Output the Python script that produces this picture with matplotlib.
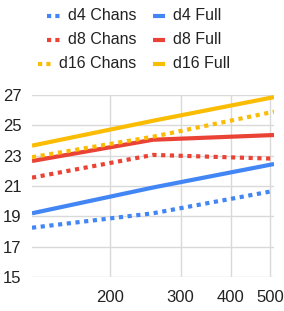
import matplotlib
matplotlib.use("Agg")
import matplotlib.pyplot as plt
from matplotlib.lines import Line2D
import numpy as np

plt.rcParams['font.family'] = ['Liberation Sans', 'DejaVu Sans']

x_vals = [128, 256, 512]
d4_chans = [18.25, 19.2, 20.68]
d4_full = [19.2, 20.9, 22.45]
d8_chans = [21.55, 23.05, 22.8]
d8_full = [22.65, 24.05, 24.36]
d16_chans = [22.9, 24.25, 25.9]
d16_full = [23.66, 25.3, 26.86]
y_ticks = [15, 17, 19, 21, 23, 25, 27]
x_ticks = [200, 300, 400, 500]

blue = '#4285F4'
red = '#EA4335'
yellow = '#FBBC04'

series = [
    ("d4 Chans", d4_chans, blue, 'dot'),
    ("d4 Full", d4_full, blue, 'solid'),
    ("d8 Chans", d8_chans, red, 'dot'),
    ("d8 Full", d8_full, red, 'solid'),
    ("d16 Chans", d16_chans, yellow, 'dot'),
    ("d16 Full", d16_full, yellow, 'solid'),
]

dpi = 100
fig = plt.figure(figsize=(2.84, 3.11), dpi=dpi)
W, H = 284, 311
ax = fig.add_axes([32 / W, 1 - 277 / H, (274 - 32) / W, (277 - 95) / H])

dot_style = (0, (1, 1.1))
lw = 3.0
for name, vals, col, st in series:
    if st == 'dot':
        ax.plot(x_vals, vals, color=col, lw=lw, linestyle=dot_style,
                dash_capstyle='butt', solid_capstyle='butt')
    else:
        ax.plot(x_vals, vals, color=col, lw=lw, solid_capstyle='butt')

ax.set_xscale('log')
ax.set_xlim(128, 512)
ax.set_ylim(15, 27)
ax.set_yticks(y_ticks)
ax.set_xticks(x_ticks)
ax.set_xticklabels([str(t) for t in x_ticks])
ax.xaxis.set_minor_locator(matplotlib.ticker.NullLocator())
ax.grid(True, color='#d9d9d9', lw=1)
ax.set_axisbelow(True)
for s in ax.spines.values():
    s.set_visible(False)
ax.tick_params(length=0, labelsize=12, colors='#222222')
ax.tick_params(axis='y', pad=7.5)
ax.tick_params(axis='x', pad=9.5)

# legend (manual, Google-Charts-like layout)
rows_y = [16, 40, 64]
col1_right = 136
col2_handle = 153
col2_text = 173
fs_leg = 11.5
fig.canvas.draw()
renderer = fig.canvas.get_renderer()
for i, (y, (n1, v1, c1, s1), (n2, v2, c2, s2)) in enumerate(
        zip(rows_y, series[0::2], series[1::2])):
    yf = 1 - y / H
    t1 = fig.text(col1_right / W, yf, n1, ha='right', va='center',
                  fontsize=fs_leg, color='#222222')
    bb = t1.get_window_extent(renderer)
    tstart = bb.x0
    hx1 = tstart - 8
    hx0 = hx1 - 12.5
    fig.add_artist(Line2D([hx0 / W, hx1 / W], [yf, yf], transform=fig.transFigure,
                          color=c1, lw=lw, linestyle=(0, (1, 1)), dash_capstyle='butt'))
    fig.add_artist(Line2D([col2_handle / W, (col2_handle + 12) / W], [yf, yf],
                          transform=fig.transFigure, color=c2, lw=lw,
                          solid_capstyle='butt'))
    fig.text(col2_text / W, yf, n2, ha='left', va='center',
             fontsize=fs_leg, color='#222222')

fig.savefig('out.png', dpi=dpi)
